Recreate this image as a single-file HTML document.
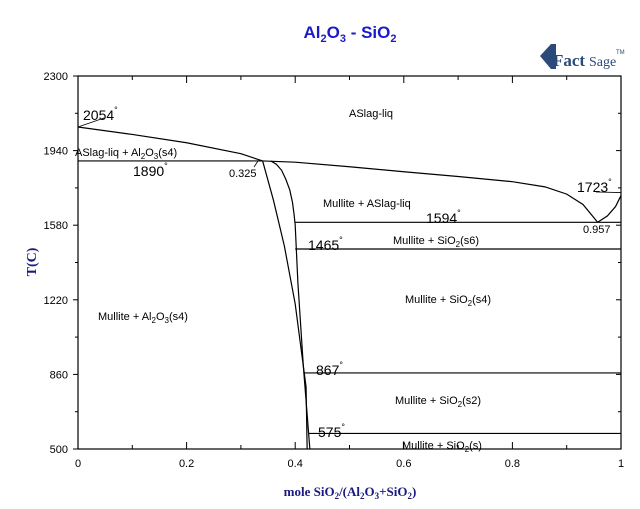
<!DOCTYPE html>
<html><head><meta charset="utf-8"><style>
body{margin:0;background:#fff;width:640px;height:504px;overflow:hidden}
svg text{font-family:"Liberation Sans",sans-serif}
</style></head><body>
<svg width="640" height="504">
<text x="350" y="38" text-anchor="middle" font-size="17" font-weight="bold" fill="#1a1acc">Al<tspan font-size="11" dy="4">2</tspan><tspan dy="-4">O</tspan><tspan font-size="11" dy="4">3</tspan><tspan dy="-4"> - SiO</tspan><tspan font-size="11" dy="4">2</tspan></text>
<g>
<path d="M540 56 L551 44 L556 44 L556 69 L551 69 Z" fill="#2a4a7a"/>
<text x="553" y="66" font-size="17" font-weight="bold" fill="#2a4a7a" style="font-family:'Liberation Serif',serif">Fact</text>
<text x="589" y="66" font-size="14" fill="#2a4a7a" style="font-family:'Liberation Serif',serif">Sage</text>
<text x="616" y="54" font-size="6" fill="#2a4a7a">TM</text>
</g>
<g id="axes"></g>
<g id="marks" fill="none" stroke="#000" stroke-width="1.2"></g>
<g id="labels" font-size="11"></g>
<text x="36" y="262" transform="rotate(-90 36 262)" text-anchor="middle" font-size="14" font-weight="bold" fill="#1a1a80" style="font-family:'Liberation Serif',serif">T(C)</text>
<text x="350" y="496" text-anchor="middle" font-size="13" font-weight="bold" fill="#1a1a80" style="font-family:'Liberation Serif',serif">mole SiO<tspan font-size="9" dy="3">2</tspan><tspan dy="-3">/(Al</tspan><tspan font-size="9" dy="3">2</tspan><tspan dy="-3">O</tspan><tspan font-size="9" dy="3">3</tspan><tspan dy="-3">+SiO</tspan><tspan font-size="9" dy="3">2</tspan><tspan dy="-3">)</tspan></text>
</svg>
<script>
const xTicks=[0,0.2,0.4,0.6,0.8,1];
const yTicks=[500,860,1220,1580,1940,2300];
const liquidusLeft=[[0,2054],[0.1,2018],[0.2,1978],[0.3,1925],[0.34,1890]];
const eutecticLine=[[0,1890],[0.34,1890]];
const liquidusRight=[[0.34,1890],[0.4,1884],[0.5,1862],[0.6,1838],[0.7,1815],[0.8,1790],[0.86,1765],[0.9,1730],[0.93,1680],[0.957,1594]];
const liquidusSiO2=[[0.957,1594],[0.975,1625],[0.99,1670],[1,1723]];
const mulliteLeft=[[0.34,1890],[0.36,1700],[0.38,1480],[0.4,1200],[0.42,800],[0.422,500]];
const mulliteRight=[[0.355,1890],[0.365,1875],[0.375,1845],[0.383,1800],[0.39,1750],[0.395,1690],[0.398,1630],[0.4,1580],[0.405,1300],[0.415,900],[0.427,500]];
const isotherms=[[0.4,1594],[0.4,1465],[0.415,867],[0.425,575]];
const X=v=>78+v*543, Y=t=>76+(2300-t)*(373/1800);
const NS="http://www.w3.org/2000/svg";
function mk(p,tag,a){const e=document.createElementNS(NS,tag);for(const k in a)e.setAttribute(k,a[k]);p.appendChild(e);return e;}
const ax=document.getElementById('axes'),mg=document.getElementById('marks'),lb=document.getElementById('labels');
const frame=mk(ax,'rect',{x:78,y:76,width:543,height:373,fill:'none',stroke:'#000','stroke-width':1.2});


for(let i=0;i<=10;i++){const x=X(i/10),l=i%2?4:7;
mk(ax,'line',{x1:x,x2:x,y1:76,y2:76+l,stroke:'#000'});mk(ax,'line',{x1:x,x2:x,y1:449,y2:449-l,stroke:'#000'});}
for(let i=0;i<=10;i++){const y=Y(500+i*180),l=i%2?3:5;
mk(ax,'line',{x1:78-l,x2:78,y1:y,y2:y,stroke:'#000'});mk(ax,'line',{x1:621-l,x2:621,y1:y,y2:y,stroke:'#000'});}
xTicks.forEach(v=>{const t=mk(ax,'text',{x:X(v),y:467,'text-anchor':'middle','font-size':11});t.textContent=v;

});
yTicks.forEach(v=>{const t=mk(ax,'text',{x:68,y:Y(v)+4,'text-anchor':'end','font-size':11});t.textContent=v;

});
function line(pts,name){const p=mk(mg,'polyline',{points:pts.map(q=>X(q[0])+','+Y(q[1])).join(' ')});

}
line(liquidusLeft,'liquidus-left');line(eutecticLine,'eutectic-1890');line(liquidusRight,'liquidus-right');
line(liquidusSiO2,'liquidus-sio2');line(mulliteLeft,'mullite-left-boundary');line(mulliteRight,'mullite-right-boundary');
isotherms.forEach(q=>line([[q[0],q[1]],[1,q[1]]],'isotherm-'+q[1]));
mk(mg,'line',{x1:X(0),y1:Y(2054),x2:104,y2:118,'stroke-width':0.8});
mk(mg,'line',{x1:X(1),y1:Y(1723)-3,x2:596,y2:192,'stroke-width':0.8});
mk(mg,'line',{x1:254,y1:167,x2:258,y2:161,'stroke-width':0.8});
function txt(x,y,s,sz,name){const t=mk(lb,'text',{x:x,y:y,'font-size':sz||11});t.innerHTML=s;

}
const sub=s=>'<tspan font-size="8" dy="3">'+s+'</tspan><tspan dy="-3">';
txt(83,120,'2054<tspan font-size="9" dy="-7">°</tspan>',14,'label-2054');
txt(133,176,'1890<tspan font-size="9" dy="-7">°</tspan>',14,'label-1890');
txt(577,192,'1723<tspan font-size="9" dy="-7">°</tspan>',14,'label-1723');
txt(426,223,'1594<tspan font-size="9" dy="-7">°</tspan>',14,'label-1594');
txt(308,250,'1465<tspan font-size="9" dy="-7">°</tspan>',14,'label-1465');
txt(316,375,'867<tspan font-size="9" dy="-7">°</tspan>',14,'label-867');
txt(318,437,'575<tspan font-size="9" dy="-7">°</tspan>',14,'label-575');
txt(229,177,'0.325',11,'label-0325');
txt(583,233,'0.957',11,'label-0957');
txt(349,117,'ASlag-liq',11,'region-liquid');
txt(75,156,'ASlag-liq + Al'+sub('2')+'O'+sub('3')+'(s4)</tspan></tspan>',11,'region-liq-al2o3');
txt(323,207,'Mullite + ASlag-liq',11,'region-mullite-liq');
txt(393,244,'Mullite + SiO'+sub('2')+'(s6)</tspan>',11,'region-mullite-s6');
txt(405,303,'Mullite + SiO'+sub('2')+'(s4)</tspan>',11,'region-mullite-s4');
txt(98,320,'Mullite + Al'+sub('2')+'O'+sub('3')+'(s4)</tspan></tspan>',11,'region-mullite-al2o3');
txt(395,404,'Mullite + SiO'+sub('2')+'(s2)</tspan>',11,'region-mullite-s2');
txt(402,449,'Mullite + SiO'+sub('2')+'(s)</tspan>',11,'region-mullite-s');
</script>
</body></html>
